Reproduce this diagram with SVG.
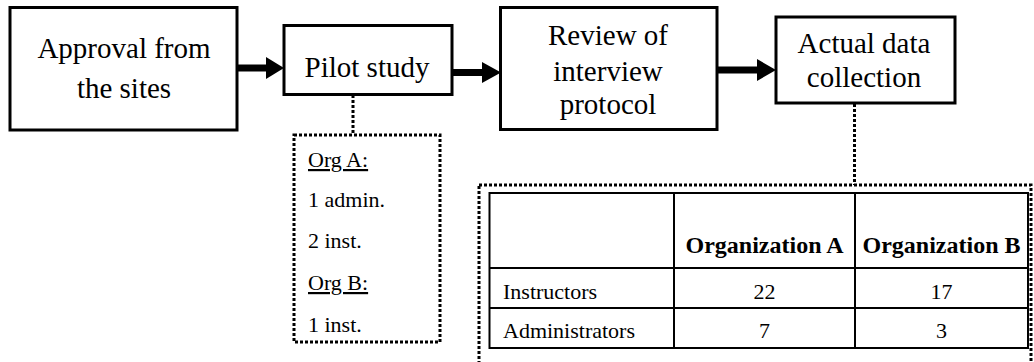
<svg xmlns="http://www.w3.org/2000/svg" width="1034" height="362" viewBox="0 0 1034 362" font-family="Liberation Serif, Times New Roman, DejaVu Serif, serif">
<style>
.box{fill:#fff;stroke:#000;stroke-width:3}
.dot{fill:none;stroke:#000;stroke-width:3;stroke-dasharray:3 2}
.t{font-size:29px;fill:#000;text-anchor:middle}
.s{font-size:22px;fill:#000}
.c{text-anchor:middle}
.b{font-weight:bold;text-anchor:middle;font-size:24px}
.u{text-decoration:underline}
.tl{stroke:#000;stroke-width:2;fill:none}
.ln{stroke:#000;stroke-width:7;fill:none}
</style>
<rect width="1034" height="362" fill="#fff"/>
<g id="connectors">
  <line class="ln" x1="237" y1="68" x2="268" y2="68"/>
  <polygon points="266,57 284,68 266,79"/>
  <line class="ln" x1="452" y1="72.5" x2="484" y2="72.5"/>
  <polygon points="482,62 501,72.5 482,83"/>
  <line class="ln" x1="717" y1="70" x2="759" y2="70"/>
  <polygon points="757,59 776,70 757,81"/>
  <line class="dot" x1="353" y1="95" x2="353" y2="135"/>
  <line class="dot" x1="854.5" y1="104" x2="854.5" y2="185"/>
</g>
<g id="n1">
  <rect class="box" x="10" y="7.5" width="227" height="122.5"/>
  <text class="t" x="124" y="58">Approval from</text>
  <text class="t" x="124" y="98">the sites</text>
</g>
<g id="n2">
  <rect class="box" x="284" y="25.5" width="168" height="69"/>
  <text class="t" x="367" y="77">Pilot study</text>
</g>
<g id="n3">
  <rect class="box" x="500.5" y="7.5" width="216.5" height="122"/>
  <text class="t" x="608" y="45">Review of</text>
  <text class="t" x="608" y="81">interview</text>
  <text class="t" x="608" y="114">protocol</text>
</g>
<g id="n4">
  <rect class="box" x="776" y="17" width="179" height="86"/>
  <text class="t" x="864" y="53">Actual data</text>
  <text class="t" x="864" y="87">collection</text>
</g>
<g id="pilot-detail">
  <rect class="dot" x="294" y="135" width="146" height="207"/>
  <text class="s u" x="308" y="167">Org A:</text>
  <text class="s" x="308" y="207">1 admin.</text>
  <text class="s" x="308" y="248">2 inst.</text>
  <text class="s u" x="308" y="290">Org B:</text>
  <text class="s" x="308" y="332">1 inst.</text>
</g>
<g id="collection-detail">
  <rect class="dot" x="479" y="185" width="552" height="180"/>
  <rect class="tl" x="489.5" y="193" width="538.5" height="155"/>
  <line class="tl" x1="674" y1="193" x2="674" y2="348"/>
  <line class="tl" x1="855" y1="193" x2="855" y2="348"/>
  <line class="tl" x1="489.5" y1="268" x2="1028" y2="268"/>
  <line class="tl" x1="489.5" y1="308" x2="1028" y2="308"/>
  <text class="s b" x="764.5" y="253">Organization A</text>
  <text class="s b" x="941.5" y="253">Organization B</text>
  <text class="s" x="503" y="299">Instructors</text>
  <text class="s c" x="764.5" y="299">22</text>
  <text class="s c" x="941.5" y="299">17</text>
  <text class="s" x="503" y="338">Administrators</text>
  <text class="s c" x="764.5" y="338">7</text>
  <text class="s c" x="941.5" y="338">3</text>
</g>
</svg>
